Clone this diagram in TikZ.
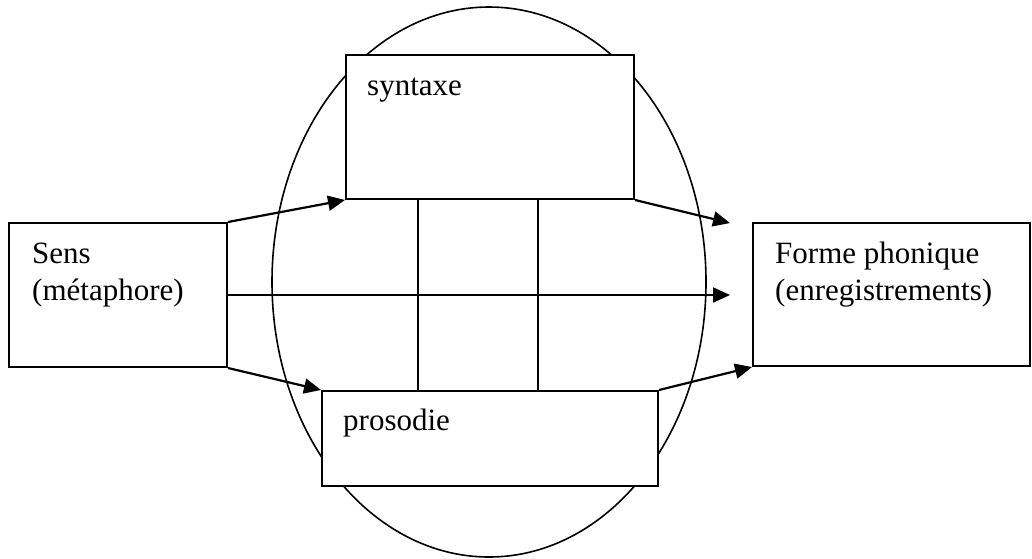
\documentclass[tikz,border=0pt]{standalone}
\usepackage{fontspec}
\setmainfont{Liberation Serif}
\usetikzlibrary{arrows.meta,shapes.geometric}
\begin{document}
\begin{tikzpicture}[x=1pt,y=-1pt,
  box/.style={draw,line width=2pt,fill=white,inner sep=0pt,rectangle},
  lbl/.style={anchor=base west,inner sep=0pt,font=\fontsize{31}{37}\selectfont},
  conn/.style={line width=2.2pt,-{Triangle[length=17pt,width=15pt]}},
  plain/.style={line width=2pt}]
\useasboundingbox (0,0) rectangle (1032,558);
\node[draw,ellipse,line width=1.6pt,minimum width=434pt,minimum height=550pt,inner sep=0pt] (ell) at (489,282) {};
\node[box,minimum width=218pt,minimum height=144pt] (sens) at (118,295) {};
\node[box,minimum width=288pt,minimum height=144pt] (syn) at (490,127) {};
\node[box,minimum width=336pt,minimum height=95pt] (pro) at (490,438.5) {};
\node[box,minimum width=277pt,minimum height=143pt] (forme) at (891.5,294.5) {};
\node[lbl] (t1) at (32,263) {Sens};
\node[lbl] (t2) at (32,300) {(métaphore)};
\node[lbl] (t3) at (367,95) {syntaxe};
\node[lbl] (t4) at (343,430) {prosodie};
\node[lbl] (t5) at (775,263) {Forme phonique};
\node[lbl] (t6) at (775,300) {(enregistrements)};
\coordinate (c1) at (418,0);
\coordinate (c2) at (538,0);
\coordinate (e1) at (730,223);
\coordinate (e2) at (730,295);
\draw[plain] (syn.south -| c1) -- (pro.north -| c1);
\draw[plain] (syn.south -| c2) -- (pro.north -| c2);
\draw[conn] (sens.north east) -- (syn.south west);
\draw[conn] (syn.south east) -- (e1);
\draw[conn] (sens.east) -- (e2);
\draw[conn] (sens.south east) -- (pro.north west);
\draw[conn] (pro.north east) -- (forme.south west);
\end{tikzpicture}
\end{document}
